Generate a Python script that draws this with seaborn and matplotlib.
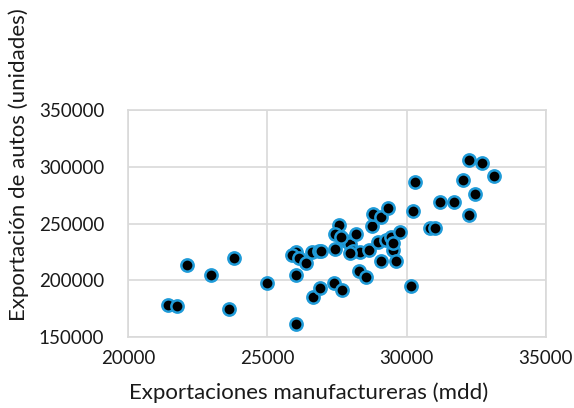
import pandas as pd
import matplotlib
matplotlib.use("Agg")
import matplotlib.pyplot as plt
import seaborn as sns

# Exportaciones manufactureras (mdd) vs exportación de autos (unidades)
manufactureras = [
    21445, 21767, 22104, 22975, 23788, 23609, 24993, 26046, 26046, 26021,
    25889, 26140, 26380, 26641, 26906, 26595, 26845, 27394, 27681, 27419,
    27562, 27430, 27838, 27982, 28172, 28075, 28315, 27957, 28290, 28555,
    28648, 28971, 29272, 29451, 28770, 28792, 29093, 29329, 29508, 29508,
    29093, 29605, 29749, 30225, 30168, 30287, 30824, 31003, 31182, 31720,
    32017, 32233, 32698, 33128, 32472, 32257, 26942, 27659,
]
autos = [
    178170, 177550, 213380, 204580, 219280, 174910, 197270, 161180, 204580, 225090,
    222180, 219280, 215410, 185480, 192870, 224560, 225970, 197270, 191370, 227200,
    248600, 240670, 234770, 231870, 240670, 225970, 225090, 223680, 208360, 202550,
    226590, 233890, 235390, 238290, 247710, 258890, 255370, 264170, 226590, 232480,
    217170, 216900, 242690, 261180, 194900, 286710, 245690, 245690, 269110, 269110,
    288210, 305810, 303790, 291730, 276500, 257400, 225970, 238290,
]

x_ticks = [20000, 25000, 30000, 35000]
y_ticks = [150000, 200000, 250000, 300000, 350000]

df = pd.DataFrame({"manufactureras": manufactureras, "autos": autos})

sns.set_style("white")
plt.rcParams["font.family"] = ["Lato", "DejaVu Sans"]

fig = plt.figure(figsize=(5.74, 4.08), dpi=100)
ax = fig.add_axes([0.223, 0.174, 0.728, 0.556])

sns.scatterplot(data=df, x="manufactureras", y="autos", ax=ax,
                color="black", edgecolor="#1f9bd8", linewidth=1.8, s=78, zorder=3)

ax.set_xlim(20000, 35000)
ax.set_ylim(150000, 350000)
ax.set_xticks(x_ticks)
ax.set_yticks(y_ticks)
ax.set_xticklabels([str(t) for t in x_ticks])
ax.set_yticklabels([str(t) for t in y_ticks])
ax.grid(True, color="#d9d9d9", linewidth=1.2, zorder=0)
ax.set_axisbelow(True)
for sp in ax.spines.values():
    sp.set_color("#d9d9d9")
    sp.set_linewidth(1.2)
ax.tick_params(axis="both", length=0, labelsize=13.5, colors="#1a1a1a")
ax.tick_params(axis="y", pad=17)
ax.tick_params(axis="x", pad=9)
ax.set_xlabel("")
ax.set_ylabel("")

fig.text(0.538, 0.037, "Exportaciones manufactureras (mdd)", ha="center", va="center",
         fontsize=16, color="#1a1a1a")
fig.text(0.033, 0.596, "Exportación de autos (unidades)", ha="center", va="center",
         rotation=90, fontsize=16, color="#1a1a1a")

fig.savefig("out.png", dpi=100)
